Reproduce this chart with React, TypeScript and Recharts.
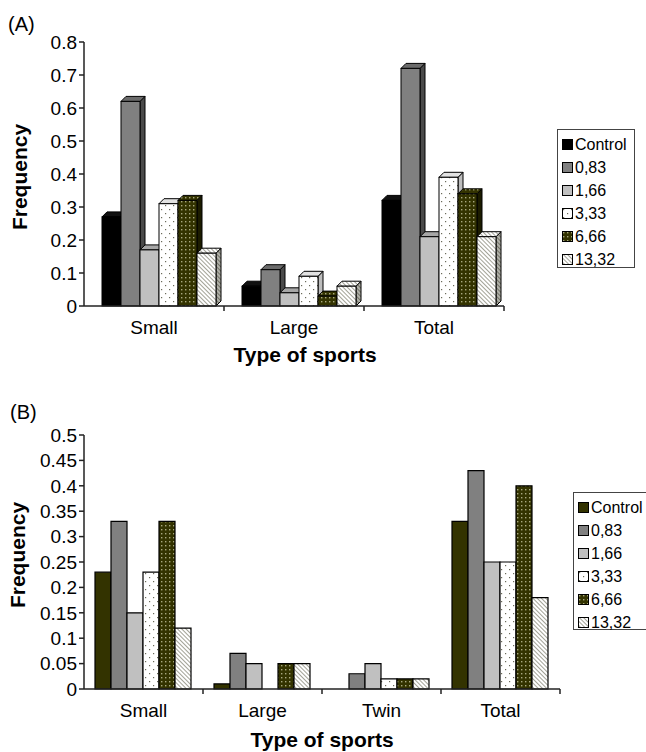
// App.tsx
import React from 'react';
import { BarChart, Bar, XAxis, YAxis } from 'recharts';

const seriesNames = ['Control', '0,83', '1,66', '3,33', '6,66', '13,32'];

// (A)
const categoriesA = ['Small', 'Large', 'Total'];
const controlA = [0.27, 0.06, 0.32];
const dose083A = [0.62, 0.11, 0.72];
const dose166A = [0.17, 0.04, 0.21];
const dose333A = [0.31, 0.09, 0.39];
const dose666A = [0.32, 0.03, 0.34];
const dose1332A = [0.16, 0.06, 0.21];
const ticksA = [0, 0.1, 0.2, 0.3, 0.4, 0.5, 0.6, 0.7, 0.8];

// (B)
const categoriesB = ['Small', 'Large', 'Twin', 'Total'];
const controlB = [0.23, 0.01, null, 0.33];
const dose083B = [0.33, 0.07, 0.03, 0.43];
const dose166B = [0.15, 0.05, 0.05, 0.25];
const dose333B = [0.23, null, 0.02, 0.25];
const dose666B = [0.33, 0.05, 0.02, 0.4];
const dose1332B = [0.12, 0.05, 0.02, 0.18];
const ticksB = [0, 0.05, 0.1, 0.15, 0.2, 0.25, 0.3, 0.35, 0.4, 0.45, 0.5];

const keys = ['control', 'd083', 'd166', 'd333', 'd666', 'd1332'];

const dataA = categoriesA.map((category, i) => ({
    category,
    control: controlA[i],
    d083: dose083A[i],
    d166: dose166A[i],
    d333: dose333A[i],
    d666: dose666A[i],
    d1332: dose1332A[i]
}));

const dataB = categoriesB.map((category, i) => ({
    category,
    control: controlB[i],
    d083: dose083B[i],
    d166: dose166B[i],
    d333: dose333B[i],
    d666: dose666B[i],
    d1332: dose1332B[i]
}));

// front / top / side colours for the 3D bars of (A)
const facesA = [
    { front: '#000000', top: '#111111', side: '#1a1a1a' },
    { front: '#808080', top: '#6b6b6b', side: '#4a4a4a' },
    { front: '#c0c0c0', top: '#a6a6a6', side: '#8c8c8c' },
    { front: 'url(#dotsLight)', top: '#e2e2e2', side: '#bdbdbd' },
    { front: 'url(#dotsOlive)', top: 'url(#dotsOlive)', side: '#1c1c00' },
    { front: 'url(#hatch)', top: 'url(#hatch)', side: 'url(#hatchDark)' }
];

const fillsB = ['#333300', '#808080', '#c0c0c0', 'url(#dotsLight)', 'url(#dotsOlive)', 'url(#hatch)'];
const legendFillsA = ['#000000', '#808080', '#c0c0c0', 'url(#dotsLight)', 'url(#dotsOlive)', 'url(#hatch)'];

const FONT = '"Liberation Sans", Arial, sans-serif';

const Patterns: React.FC = () => (
    <svg width={0} height={0} style={{ position: 'absolute' }}>
        <defs>
            <pattern id="dotsLight" width={8} height={8} patternUnits="userSpaceOnUse">
                <rect width={8} height={8} fill="#ffffff" />
                <rect x={1} y={1} width={1.2} height={1.2} fill="#6a6a5a" />
                <rect x={5} y={5} width={1.2} height={1.2} fill="#6a6a5a" />
            </pattern>
            <pattern id="dotsOlive" width={4} height={4} patternUnits="userSpaceOnUse">
                <rect width={4} height={4} fill="#333300" />
                <rect x={1} y={1} width={1.4} height={1.4} fill="#a8a880" />
            </pattern>
            <pattern id="hatch" width={3} height={3} patternUnits="userSpaceOnUse" patternTransform="rotate(-45)">
                <rect width={3} height={3} fill="#ffffff" />
                <line x1={0} y1={0} x2={0} y2={3} stroke="#7a7a68" strokeWidth={1.4} />
            </pattern>
            <pattern id="hatchDark" width={3} height={3} patternUnits="userSpaceOnUse" patternTransform="rotate(-45)">
                <rect width={3} height={3} fill="#b0b0a8" />
                <line x1={0} y1={0} x2={0} y2={3} stroke="#555548" strokeWidth={1.4} />
            </pattern>
        </defs>
    </svg>
);

const DEPTH = 5;

const make3DShape = (faces: { front: string; top: string; side: string }) => (props: any) => {
    const { x, y, width, height } = props;
    if (!height || height <= 0) return <g />;
    const sx = x + 5;
    const bottom = y + height;
    const topFace = `${sx},${y} ${sx + DEPTH},${y - DEPTH} ${sx + width + DEPTH},${y - DEPTH} ${sx + width},${y}`;
    const sideFace = `${sx + width},${y} ${sx + width + DEPTH},${y - DEPTH} ${sx + width + DEPTH},${bottom - DEPTH} ${sx + width},${bottom}`;
    return (
        <g>
            <polygon points={sideFace} fill={faces.side} stroke="#000" strokeWidth={1} />
            <polygon points={topFace} fill={faces.top} stroke="#000" strokeWidth={1} />
            <rect x={sx} y={y} width={width} height={height} fill={faces.front} stroke="#000" strokeWidth={1} />
        </g>
    );
};

const makeCategoryTick = (fallbackHalf: number) => (props: any) => {
    const { x, y, payload } = props;
    const half = payload && typeof payload.offset === 'number' && payload.offset > 0 ? payload.offset : fallbackHalf;
    return (
        <g>
            <line x1={x + half} x2={x + half} y1={y - 8} y2={y - 3} stroke="#222" strokeWidth={1.5} />
            <text x={x} y={y + 13} textAnchor="middle" dominantBaseline="central" fontSize={19} fill="#000">
                {payload.value}
            </text>
        </g>
    );
};

interface LegendBoxProps {
    left: number;
    top: number;
    width: number;
    height: number;
    fills: string[];
}

const LegendBox: React.FC<LegendBoxProps> = ({ left, top, width, height, fills }) => (
    <div
        style={{
            position: 'absolute',
            left,
            top,
            width,
            height,
            border: '1px solid #444',
            boxSizing: 'border-box',
            paddingTop: 3,
            background: '#fff'
        }}
    >
        {seriesNames.map((name, i) => (
            <div key={name} style={{ display: 'flex', alignItems: 'center', height: 23, paddingLeft: 4 }}>
                <svg width={12} height={12} style={{ marginRight: 1 }}>
                    <rect x={0.5} y={0.5} width={10} height={10} fill={fills[i]} stroke="#000" strokeWidth={1} />
                </svg>
                <span style={{ fontSize: 16, lineHeight: '16px', color: '#000' }}>{name}</span>
            </div>
        ))}
    </div>
);

const axisStroke = { stroke: '#222', strokeWidth: 1.5 };

const App: React.FC = () => {
    return (
        <div
            style={{
                position: 'absolute',
                left: 0,
                top: 0,
                width: 646,
                height: 752,
                background: '#ffffff',
                fontFamily: FONT,
                overflow: 'hidden'
            }}
        >
            <Patterns />

            {/* (A) */}
            <div style={{ position: 'absolute', left: 0, top: 0 }}>
                <BarChart
                    width={646}
                    height={370}
                    data={dataA}
                    margin={{ top: 42, right: 142, bottom: 34, left: 34 }}
                    barGap={0}
                    barCategoryGap={13}
                >
                    <XAxis
                        dataKey="category"
                        height={30}
                        axisLine={axisStroke}
                        tickLine={false}
                        tick={makeCategoryTick(70)}
                        interval={0}
                    />
                    <YAxis
                        width={50}
                        domain={[0, 0.8]}
                        ticks={ticksA}
                        interval={0}
                        tick={{ fontSize: 19, fill: '#000' }}
                        tickSize={5}
                        tickMargin={2}
                        axisLine={axisStroke}
                        tickLine={axisStroke}
                    />
                    {keys.map((k, i) => (
                        <Bar
                            key={k}
                            dataKey={k}
                            name={seriesNames[i]}
                            fill={legendFillsA[i]}
                            shape={make3DShape(facesA[i])}
                            isAnimationActive={false}
                        />
                    ))}
                </BarChart>
            </div>
            <div style={{ position: 'absolute', left: 8, top: 13, fontSize: 20 }}>(A)</div>
            <div
                style={{
                    position: 'absolute',
                    left: 20,
                    top: 177,
                    fontSize: 21,
                    fontWeight: 'bold',
                    transform: 'translate(-50%, -50%) rotate(-90deg)',
                    whiteSpace: 'nowrap'
                }}
            >
                Frequency
            </div>
            <div
                style={{
                    position: 'absolute',
                    left: 305,
                    top: 355,
                    fontSize: 21,
                    fontWeight: 'bold',
                    transform: 'translate(-50%, -50%)',
                    whiteSpace: 'nowrap'
                }}
            >
                Type of sports
            </div>
            <LegendBox left={557} top={129} width={78} height={139} fills={legendFillsA} />

            {/* (B) */}
            <div style={{ position: 'absolute', left: 0, top: 380 }}>
                <BarChart
                    width={646}
                    height={372}
                    data={dataB}
                    margin={{ top: 55, right: 86, bottom: 33, left: 34 }}
                    barGap={0}
                    barCategoryGap={11}
                >
                    <XAxis
                        dataKey="category"
                        height={30}
                        axisLine={axisStroke}
                        tickLine={false}
                        tick={makeCategoryTick(59.5)}
                        interval={0}
                    />
                    <YAxis
                        width={50}
                        domain={[0, 0.5]}
                        ticks={ticksB}
                        interval={0}
                        tick={{ fontSize: 19, fill: '#000' }}
                        tickSize={5}
                        tickMargin={2}
                        axisLine={axisStroke}
                        tickLine={axisStroke}
                    />
                    {keys.map((k, i) => (
                        <Bar
                            key={k}
                            dataKey={k}
                            name={seriesNames[i]}
                            fill={fillsB[i]}
                            stroke="#000"
                            strokeWidth={1.2}
                            isAnimationActive={false}
                        />
                    ))}
                </BarChart>
            </div>
            <div style={{ position: 'absolute', left: 10, top: 401, fontSize: 20 }}>(B)</div>
            <div
                style={{
                    position: 'absolute',
                    left: 18,
                    top: 555,
                    fontSize: 21,
                    fontWeight: 'bold',
                    transform: 'translate(-50%, -50%) rotate(-90deg)',
                    whiteSpace: 'nowrap'
                }}
            >
                Frequency
            </div>
            <div
                style={{
                    position: 'absolute',
                    left: 322,
                    top: 740,
                    fontSize: 21,
                    fontWeight: 'bold',
                    transform: 'translate(-50%, -50%)',
                    whiteSpace: 'nowrap'
                }}
            >
                Type of sports
            </div>
            <LegendBox left={573} top={492} width={76} height={138} fills={fillsB} />
        </div>
    );
};

export default App;
